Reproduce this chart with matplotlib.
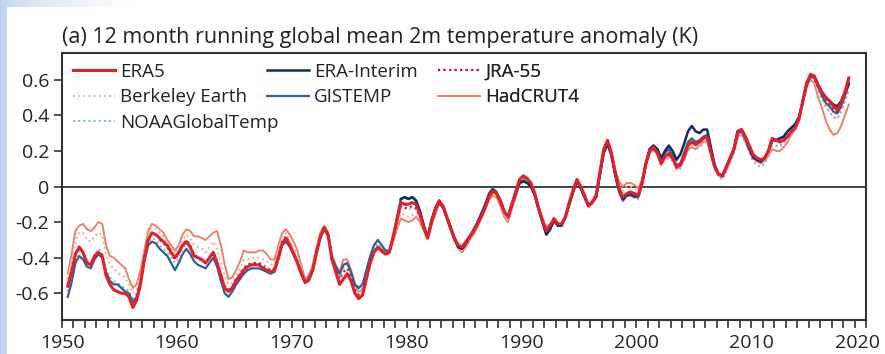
import numpy as np
import matplotlib
matplotlib.use('Agg')
import matplotlib.pyplot as plt
import matplotlib.transforms as mtransforms
from matplotlib.patches import Rectangle

plt.rcParams['font.family'] = ['Open Sans', 'DejaVu Sans']
plt.rcParams['axes.unicode_minus'] = False

# 12 month running means, one value every 4 months
# era5, hadcrut4, berkeley, gistemp, noaa start 1950.5; jra55 1958.5; erai 1979.5
era5 = [
    -0.56, -0.48, -0.38, -0.34, -0.37, -0.43, -0.44, -0.39, -0.37, -0.39, -0.50, -0.55,
    -0.58, -0.59, -0.60, -0.60, -0.62, -0.68, -0.64, -0.55, -0.41, -0.30, -0.26, -0.27,
    -0.29, -0.31, -0.33, -0.37, -0.40, -0.37, -0.33, -0.31, -0.34, -0.39, -0.40, -0.41,
    -0.43, -0.40, -0.37, -0.43, -0.50, -0.57, -0.59, -0.57, -0.53, -0.50, -0.47, -0.45,
    -0.44, -0.44, -0.44, -0.46, -0.47, -0.48, -0.47, -0.40, -0.32, -0.29, -0.33, -0.38,
    -0.43, -0.49, -0.54, -0.52, -0.47, -0.37, -0.28, -0.23, -0.27, -0.41, -0.48, -0.55,
    -0.52, -0.49, -0.53, -0.60, -0.63, -0.61, -0.52, -0.43, -0.37, -0.34, -0.36, -0.38,
    -0.37, -0.28, -0.19, -0.09, -0.10, -0.10, -0.09, -0.10, -0.16, -0.23, -0.29, -0.20,
    -0.13, -0.08, -0.11, -0.17, -0.23, -0.29, -0.33, -0.34, -0.31, -0.28, -0.25, -0.21,
    -0.17, -0.12, -0.06, -0.025, -0.04, -0.08, -0.14, -0.17, -0.10, -0.03, 0.04, 0.06,
    0.045, 0.02, -0.04, -0.12, -0.19, -0.25, -0.22, -0.18, -0.21, -0.21, -0.17, -0.09,
    -0.02, 0.04, 0.00, -0.05, -0.11, -0.09, -0.05, 0.08, 0.21, 0.26, 0.19, 0.08,
    -0.01, -0.06, -0.04, -0.03, -0.04, -0.05, 0.02, 0.13, 0.20, 0.22, 0.19, 0.13,
    0.17, 0.185, 0.16, 0.11, 0.12, 0.17, 0.23, 0.25, 0.235, 0.25, 0.27, 0.28,
    0.19, 0.11, 0.07, 0.06, 0.11, 0.16, 0.21, 0.31, 0.32, 0.28, 0.23, 0.18,
    0.16, 0.15, 0.16, 0.20, 0.27, 0.26, 0.25, 0.26, 0.28, 0.31, 0.33, 0.38,
    0.48, 0.58, 0.63, 0.62, 0.57, 0.53, 0.50, 0.48, 0.45, 0.43, 0.47, 0.53,
    0.61]

hadcrut4 = [
    -0.49, -0.38, -0.25, -0.22, -0.21, -0.24, -0.25, -0.23, -0.20, -0.21, -0.33, -0.39,
    -0.40, -0.42, -0.44, -0.46, -0.52, -0.57, -0.55, -0.47, -0.36, -0.25, -0.21, -0.22,
    -0.24, -0.26, -0.30, -0.33, -0.36, -0.33, -0.27, -0.24, -0.25, -0.28, -0.28, -0.29,
    -0.30, -0.28, -0.26, -0.25, -0.33, -0.44, -0.52, -0.51, -0.47, -0.42, -0.36, -0.37,
    -0.37, -0.37, -0.36, -0.36, -0.38, -0.41, -0.41, -0.33, -0.26, -0.24, -0.27, -0.31,
    -0.36, -0.44, -0.52, -0.50, -0.44, -0.34, -0.26, -0.22, -0.26, -0.38, -0.44, -0.48,
    -0.41, -0.41, -0.47, -0.55, -0.59, -0.58, -0.50, -0.42, -0.37, -0.35, -0.37, -0.38,
    -0.37, -0.31, -0.24, -0.18, -0.19, -0.20, -0.19, -0.17, -0.20, -0.25, -0.29, -0.22,
    -0.16, -0.10, -0.12, -0.18, -0.24, -0.30, -0.35, -0.37, -0.34, -0.30, -0.27, -0.23,
    -0.18, -0.13, -0.08, -0.05, -0.06, -0.11, -0.17, -0.20, -0.13, -0.06, 0.01, 0.04,
    0.03, 0.01, -0.05, -0.12, -0.18, -0.23, -0.21, -0.18, -0.21, -0.21, -0.17, -0.10,
    -0.03, 0.03, 0.00, -0.05, -0.10, -0.08, -0.05, 0.06, 0.19, 0.24, 0.19, 0.09,
    0.03, 0.00, 0.02, 0.02, 0.01, -0.01, 0.04, 0.12, 0.19, 0.21, 0.18, 0.12,
    0.16, 0.17, 0.15, 0.10, 0.11, 0.15, 0.21, 0.22, 0.21, 0.23, 0.25, 0.26,
    0.18, 0.10, 0.06, 0.05, 0.09, 0.14, 0.19, 0.28, 0.29, 0.25, 0.20, 0.16,
    0.14, 0.13, 0.14, 0.17, 0.21, 0.20, 0.20, 0.22, 0.25, 0.29, 0.32, 0.37,
    0.47, 0.56, 0.60, 0.58, 0.50, 0.44, 0.37, 0.32, 0.29, 0.30, 0.34, 0.40,
    0.46]

berkeley = [
    -0.52, -0.42, -0.30, -0.26, -0.26, -0.30, -0.31, -0.28, -0.26, -0.27, -0.38, -0.44,
    -0.46, -0.48, -0.50, -0.51, -0.55, -0.60, -0.58, -0.50, -0.38, -0.27, -0.23, -0.24,
    -0.26, -0.28, -0.31, -0.35, -0.38, -0.35, -0.30, -0.27, -0.29, -0.33, -0.34, -0.35,
    -0.37, -0.34, -0.31, -0.35, -0.43, -0.50, -0.55, -0.54, -0.50, -0.46, -0.41, -0.41,
    -0.40, -0.40, -0.40, -0.41, -0.42, -0.44, -0.43, -0.36, -0.28, -0.26, -0.30, -0.34,
    -0.39, -0.46, -0.53, -0.51, -0.45, -0.35, -0.27, -0.22, -0.26, -0.39, -0.46, -0.51,
    -0.46, -0.44, -0.50, -0.57, -0.61, -0.60, -0.51, -0.43, -0.37, -0.34, -0.36, -0.38,
    -0.37, -0.30, -0.22, -0.15, -0.16, -0.17, -0.16, -0.16, -0.19, -0.24, -0.29, -0.21,
    -0.15, -0.09, -0.12, -0.18, -0.24, -0.30, -0.34, -0.36, -0.33, -0.29, -0.26, -0.22,
    -0.17, -0.12, -0.07, -0.04, -0.05, -0.10, -0.16, -0.19, -0.12, -0.05, 0.02, 0.05,
    0.03, 0.01, -0.05, -0.12, -0.19, -0.24, -0.22, -0.18, -0.21, -0.21, -0.17, -0.10,
    -0.03, 0.03, 0.00, -0.05, -0.10, -0.08, -0.05, 0.07, 0.20, 0.25, 0.19, 0.08,
    0.01, -0.03, 0.00, 0.00, -0.01, -0.03, 0.03, 0.12, 0.19, 0.21, 0.18, 0.12,
    0.16, 0.17, 0.15, 0.10, 0.11, 0.15, 0.21, 0.23, 0.22, 0.23, 0.25, 0.26,
    0.18, 0.10, 0.06, 0.05, 0.10, 0.15, 0.20, 0.29, 0.30, 0.26, 0.21, 0.16,
    0.14, 0.13, 0.14, 0.18, 0.24, 0.23, 0.22, 0.24, 0.26, 0.30, 0.33, 0.37,
    0.47, 0.56, 0.61, 0.59, 0.53, 0.49, 0.45, 0.42, 0.39, 0.38, 0.42, 0.48,
    0.54]

gistemp = [
    -0.62, -0.54, -0.43, -0.39, -0.41, -0.45, -0.46, -0.41, -0.38, -0.40, -0.48, -0.53,
    -0.55, -0.55, -0.57, -0.59, -0.60, -0.65, -0.62, -0.54, -0.42, -0.33, -0.31, -0.32,
    -0.35, -0.37, -0.39, -0.43, -0.47, -0.43, -0.38, -0.35, -0.38, -0.42, -0.44, -0.45,
    -0.46, -0.43, -0.40, -0.45, -0.53, -0.60, -0.62, -0.59, -0.55, -0.52, -0.49, -0.47,
    -0.46, -0.46, -0.46, -0.47, -0.48, -0.49, -0.48, -0.41, -0.33, -0.31, -0.34, -0.38,
    -0.43, -0.48, -0.54, -0.53, -0.47, -0.37, -0.29, -0.24, -0.28, -0.40, -0.45, -0.49,
    -0.44, -0.43, -0.48, -0.55, -0.57, -0.55, -0.47, -0.39, -0.33, -0.30, -0.33, -0.36,
    -0.36, -0.28, -0.17, -0.07, -0.06, -0.07, -0.06, -0.08, -0.14, -0.22, -0.29, -0.20,
    -0.13, -0.09, -0.12, -0.18, -0.24, -0.30, -0.34, -0.35, -0.32, -0.28, -0.24, -0.20,
    -0.15, -0.10, -0.04, -0.01, -0.03, -0.08, -0.14, -0.17, -0.11, -0.04, 0.02, 0.03,
    0.02, 0.00, -0.05, -0.13, -0.20, -0.27, -0.24, -0.19, -0.22, -0.22, -0.17, -0.10,
    -0.03, 0.03, -0.01, -0.06, -0.11, -0.09, -0.06, 0.06, 0.19, 0.24, 0.17, 0.06,
    -0.03, -0.08, -0.05, -0.05, -0.06, -0.06, 0.01, 0.13, 0.21, 0.23, 0.21, 0.15,
    0.19, 0.21, 0.17, 0.12, 0.13, 0.19, 0.25, 0.27, 0.25, 0.26, 0.28, 0.29,
    0.20, 0.11, 0.07, 0.06, 0.11, 0.16, 0.21, 0.30, 0.31, 0.27, 0.21, 0.16,
    0.15, 0.14, 0.16, 0.20, 0.26, 0.26, 0.27, 0.28, 0.31, 0.33, 0.35, 0.39,
    0.48, 0.57, 0.62, 0.61, 0.56, 0.51, 0.47, 0.45, 0.42, 0.41, 0.45, 0.51,
    0.57]

noaa = [
    -0.59, -0.50, -0.40, -0.36, -0.38, -0.42, -0.43, -0.38, -0.35, -0.37, -0.46, -0.51,
    -0.53, -0.54, -0.56, -0.57, -0.59, -0.63, -0.60, -0.52, -0.40, -0.31, -0.29, -0.30,
    -0.33, -0.35, -0.37, -0.40, -0.43, -0.40, -0.35, -0.32, -0.35, -0.39, -0.41, -0.42,
    -0.43, -0.40, -0.37, -0.42, -0.50, -0.57, -0.59, -0.56, -0.52, -0.49, -0.45, -0.44,
    -0.43, -0.43, -0.43, -0.44, -0.45, -0.47, -0.46, -0.39, -0.31, -0.29, -0.32, -0.36,
    -0.41, -0.47, -0.53, -0.51, -0.45, -0.36, -0.28, -0.24, -0.27, -0.39, -0.45, -0.50,
    -0.45, -0.43, -0.49, -0.56, -0.59, -0.57, -0.49, -0.41, -0.35, -0.32, -0.34, -0.37,
    -0.36, -0.29, -0.20, -0.12, -0.12, -0.13, -0.12, -0.13, -0.17, -0.23, -0.29, -0.21,
    -0.14, -0.09, -0.12, -0.18, -0.24, -0.30, -0.34, -0.35, -0.32, -0.28, -0.25, -0.21,
    -0.16, -0.11, -0.05, -0.02, -0.04, -0.09, -0.15, -0.18, -0.11, -0.04, 0.02, 0.04,
    0.03, 0.00, -0.05, -0.13, -0.20, -0.26, -0.23, -0.19, -0.22, -0.22, -0.17, -0.10,
    -0.03, 0.03, -0.01, -0.06, -0.11, -0.09, -0.06, 0.06, 0.18, 0.23, 0.17, 0.06,
    -0.02, -0.07, -0.05, -0.05, -0.06, -0.07, 0.00, 0.11, 0.18, 0.20, 0.18, 0.12,
    0.15, 0.16, 0.14, 0.09, 0.10, 0.15, 0.20, 0.22, 0.21, 0.22, 0.24, 0.25,
    0.17, 0.09, 0.05, 0.04, 0.08, 0.13, 0.18, 0.27, 0.29, 0.25, 0.19, 0.14,
    0.12, 0.11, 0.13, 0.17, 0.23, 0.23, 0.23, 0.25, 0.28, 0.31, 0.33, 0.37,
    0.46, 0.55, 0.60, 0.59, 0.54, 0.49, 0.45, 0.42, 0.39, 0.38, 0.42, 0.48,
    0.54]

jra55 = [
    -0.30, -0.32, -0.34, -0.38, -0.41, -0.38, -0.33, -0.30, -0.33, -0.38, -0.40, -0.41,
    -0.43, -0.40, -0.37, -0.42, -0.49, -0.56, -0.58, -0.56, -0.52, -0.49, -0.46, -0.44,
    -0.43, -0.43, -0.43, -0.45, -0.46, -0.47, -0.46, -0.39, -0.31, -0.28, -0.32, -0.37,
    -0.42, -0.48, -0.53, -0.51, -0.46, -0.36, -0.27, -0.23, -0.27, -0.40, -0.46, -0.52,
    -0.48, -0.46, -0.51, -0.58, -0.61, -0.60, -0.51, -0.42, -0.36, -0.34, -0.36, -0.38,
    -0.37, -0.29, -0.20, -0.11, -0.12, -0.12, -0.11, -0.12, -0.17, -0.23, -0.29, -0.20,
    -0.13, -0.08, -0.11, -0.17, -0.23, -0.29, -0.33, -0.35, -0.32, -0.28, -0.25, -0.21,
    -0.17, -0.12, -0.06, -0.03, -0.04, -0.09, -0.14, -0.17, -0.10, -0.03, 0.03, 0.05,
    0.04, 0.02, -0.04, -0.12, -0.19, -0.25, -0.22, -0.18, -0.21, -0.21, -0.17, -0.09,
    -0.02, 0.04, 0.00, -0.05, -0.11, -0.09, -0.05, 0.07, 0.20, 0.25, 0.18, 0.07,
    -0.01, -0.06, -0.04, -0.04, -0.05, -0.05, 0.01, 0.12, 0.19, 0.21, 0.19, 0.13,
    0.17, 0.18, 0.16, 0.11, 0.12, 0.17, 0.23, 0.25, 0.24, 0.25, 0.27, 0.28,
    0.19, 0.11, 0.07, 0.06, 0.11, 0.16, 0.21, 0.31, 0.32, 0.28, 0.23, 0.18,
    0.16, 0.15, 0.16, 0.20, 0.26, 0.26, 0.25, 0.26, 0.28, 0.31, 0.33, 0.38,
    0.48, 0.57, 0.62, 0.61, 0.56, 0.52, 0.49, 0.46, 0.43, 0.42, 0.46, 0.52,
    0.60]

erai = [
    -0.07, -0.06, -0.07,
    -0.06, -0.08, -0.14, -0.22, -0.29, -0.19, -0.12, -0.08, -0.11, -0.17, -0.23, -0.29,
    -0.34, -0.35, -0.32, -0.28, -0.25, -0.21, -0.16, -0.11, -0.05, -0.02, -0.04, -0.08,
    -0.14, -0.17, -0.10, -0.04, 0.02, 0.03, 0.02, 0.00, -0.05, -0.13, -0.20, -0.27,
    -0.24, -0.19, -0.22, -0.22, -0.17, -0.10, -0.03, 0.03, -0.01, -0.06, -0.11, -0.09,
    -0.06, 0.07, 0.19, 0.24, 0.18, 0.07, -0.02, -0.07, -0.05, -0.04, -0.05, -0.05,
    0.02, 0.13, 0.21, 0.23, 0.21, 0.16, 0.20, 0.23, 0.20, 0.15, 0.18, 0.24,
    0.31, 0.34, 0.31, 0.30, 0.32, 0.32, 0.22, 0.12, 0.07, 0.06, 0.11, 0.16,
    0.21, 0.31, 0.32, 0.28, 0.22, 0.17, 0.15, 0.14, 0.16, 0.20, 0.26, 0.26,
    0.27, 0.28, 0.31, 0.33, 0.35, 0.39, 0.48, 0.58, 0.62, 0.62, 0.57, 0.53,
    0.50, 0.48, 0.46, 0.45, 0.48, 0.53,
    0.58]

ytick_vals = [-0.6, -0.4, -0.2, 0, 0.2, 0.4, 0.6]
ytick_labels = ['-0.6', '-0.4', '-0.2', '0', '0.2', '0.4', '0.6']
xtick_vals = [1950, 1960, 1970, 1980, 1990, 2000, 2010, 2020]


def times(start, vals):
    return start + np.arange(len(vals)) / 3.0


W, H = 885, 354
fig = plt.figure(figsize=(W / 100, H / 100), dpi=100)

# slide background: blue fading to white, white panel on top
bg = fig.add_axes([0, 0, 1, 1], zorder=-10)
grad = np.linspace(0, 1, 256)[None, :] ** 0.6
c0 = np.array([0.74, 0.82, 0.93])
img = c0[None, None, :] * (1 - grad[..., None]) + np.ones(3)[None, None, :] * grad[..., None]
bg.imshow(img, extent=[0, 0.15, 0, 1], aspect='auto')
bg.set_xlim(0, 1)
bg.set_ylim(0, 1)
bg.axis('off')
fig.patches.append(Rectangle((7 / W, 0), 1, 1 - 7 / H, transform=fig.transFigure,
                             facecolor='white', edgecolor='none', zorder=-5))

ax = fig.add_axes([62 / W, 1 - 320 / H, 804 / W, 267 / H])
ax.set_facecolor('white')

ax.axhline(0, color='#333333', lw=1.3, zorder=1)

styles = [
    ('HadCRUT4', hadcrut4, 1950.5, dict(color='#e8836b', lw=1.4, ls='-')),
    ('Berkeley Earth', berkeley, 1950.5, dict(color='#f3ab95', lw=1.4, ls=':')),
    ('NOAAGlobalTemp', noaa, 1950.5, dict(color='#7fb3de', lw=1.4, ls=':')),
    ('GISTEMP', gistemp, 1950.5, dict(color='#2f5f97', lw=1.6, ls='-')),
    ('ERA-Interim', erai, 1979.5, dict(color='#0c2d66', lw=1.8, ls='-')),
    ('JRA-55', jra55, 1958.5, dict(color='#c8102e', lw=1.5, ls=':')),
    ('ERA5', era5, 1950.5, dict(color='#e3202a', lw=2.2, ls='-')),
]
handles = {}
for i, (name, vals, start, st) in enumerate(styles):
    ln, = ax.plot(times(start, vals), vals, zorder=2 + i, **st)
    handles[name] = ln

ax.set_xlim(1950, 2020)
ax.set_ylim(-0.75, 0.75)
ax.set_xticks(xtick_vals)
ax.set_xticks(np.arange(1950, 2021), minor=True)
ax.set_yticks(ytick_vals)
ax.set_yticklabels(ytick_labels)
ax.tick_params(axis='both', which='both', direction='out', length=6, width=1.2,
               colors='#333333', labelcolor='#222222', labelsize=14)
ax.tick_params(axis='x', which='both', pad=4)
ax.tick_params(axis='y', pad=3)
for s in ax.spines.values():
    s.set_linewidth(1.5)
    s.set_color('#333333')

# keep the last year label inside the picture
last = ax.get_xticklabels()[-1]
last.set_transform(last.get_transform() +
                   mtransforms.ScaledTranslation(-8 / 100, 0, fig.dpi_scale_trans))

ax.set_title('(a) 12 month running global mean 2m temperature anomaly (K)',
             loc='left', fontsize=15.5, color='#222222', pad=7)

leg_kw = dict(frameon=False, fontsize=13.5, handlelength=2.25, handletextpad=0.27,
              labelspacing=0.4, borderpad=0, borderaxespad=0, loc='upper left')
cols = [(['ERA5', 'Berkeley Earth', 'NOAAGlobalTemp'], 0.0137),
        (['ERA-Interim', 'GISTEMP'], 0.255),
        (['JRA-55', 'HadCRUT4'], 0.468)]
for names, xpos in cols:
    leg = ax.legend(handles=[handles[n] for n in names], labels=names,
                    bbox_to_anchor=(xpos, 0.964), **leg_kw)
    for t in leg.get_texts():
        t.set_color('#222222')
    ax.add_artist(leg)

fig.savefig('out.png', dpi=100)
